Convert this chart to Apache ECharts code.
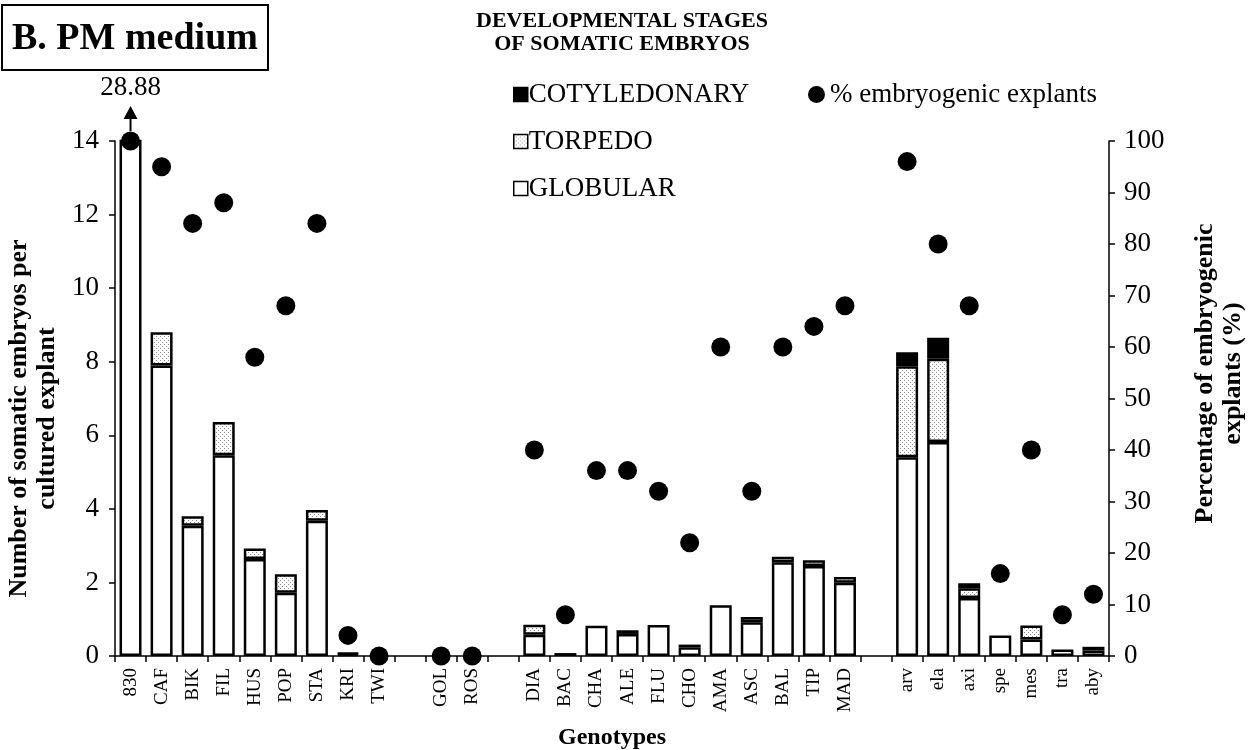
<!DOCTYPE html>
<html>
<head>
<meta charset="utf-8">
<script src="https://cdn.jsdelivr.net/npm/echarts@6/dist/echarts.min.js"></script>
<style>
html,body{margin:0;padding:0;background:#fff;}
#chart{width:1249px;height:750px;}
</style>
</head>
<body>
<div id="chart"></div>
<script>
// ---- data (null = empty slot between genotype groups) ----
const categories = ['830','CAF','BIK','FIL','HUS','POP','STA','KRI','TWI',' ',
  'GOL','ROS','  ',
  'DIA','BAC','CHA','ALE','FLU','CHO','AMA','ASC','BAL','TIP','MAD','   ',
  'arv','ela','axi','spe','mes','tra','aby'];
const globular = [28.88, 7.90, 3.54, 5.46, 2.64, 1.72, 3.68, 0.05, 0, null,
  0, 0, null,
  0.58, 0.08, 0.82, 0.60, 0.84, 0.24, 1.38, 0.92, 2.55, 2.45, 1.99, null,
  5.40, 5.82, 1.58, 0.56, 0.45, 0.18, 0.15];
const torpedo = [0, 0.90, 0.26, 0.90, 0.28, 0.50, 0.29, 0.03, 0, null,
  0, 0, null,
  0.27, 0, 0, 0.10, 0, 0.07, 0, 0.14, 0.15, 0.15, 0.16, null,
  2.48, 2.26, 0.26, 0, 0.38, 0, 0.10];
const cotyledonary = [0, 0, 0, 0, 0, 0, 0, 0, 0, null,
  0, 0, null,
  0, 0, 0, 0, 0, 0, 0, 0, 0, 0, 0, null,
  0.38, 0.57, 0.14, 0, 0, 0, 0];
const pctEmbryogenic = [100, 95, 84, 88, 58, 68, 84, 4, 0, null,
  0, 0, null,
  40, 8, 36, 36, 32, 22, 60, 32, 60, 64, 68, null,
  96, 80, 68, 16, 40, 8, 12];
const leftAxis = {min: 0, max: 14, interval: 2};
const rightAxis = {min: 0, max: 100, interval: 10};

// ---- styles ----
const FONT = "'Liberation Serif', 'DejaVu Serif', serif";
function stipple() {
  const c = document.createElement('canvas');
  c.width = 4; c.height = 4;
  const g = c.getContext('2d');
  g.fillStyle = '#ffffff'; g.fillRect(0, 0, 4, 4);
  g.fillStyle = '#8a8a8a'; g.fillRect(0, 0, 1, 1); g.fillRect(2, 2, 1, 1);
  return c;
}
const stip = stipple();
const toBar = arr => arr.map(v => (v === null || v === 0) ? '-' : v);
const toDot = arr => arr.map(v => v === null ? '-' : v);

const barBase = {
  type: 'bar', stack: 'emb', barWidth: 22, clip: true,
  yAxisIndex: 0
};

const chart = echarts.init(document.getElementById('chart'), null, {renderer: 'canvas'});
const option = {
  backgroundColor: '#ffffff',
  animation: false,
  textStyle: {fontFamily: FONT, color: '#000'},
  title: [
    {text: 'B. PM medium', left: 2, top: 5, padding: [15, 10, 12, 10],
     borderColor: '#000', borderWidth: 2,
     textStyle: {fontFamily: FONT, fontSize: 38, fontWeight: 'bold', color: '#000'}},
    {text: 'DEVELOPMENTAL STAGES\nOF SOMATIC EMBRYOS', left: 622, top: 10, textAlign: 'center',
     padding: 0,
     textStyle: {fontFamily: FONT, fontSize: 22, fontWeight: 'bold', color: '#000', lineHeight: 23}}
  ],
  legend: [
    {data: ['COTYLEDONARY', 'TORPEDO', 'GLOBULAR'], orient: 'vertical', left: 508, top: 76,
     itemGap: 20, itemWidth: 14, itemHeight: 14, icon: 'rect',
     itemStyle: {borderWidth: 1.5, borderColor: '#000'},
     textStyle: {fontFamily: FONT, fontSize: 27, color: '#000', padding: [0, 0, 0, -4]}},
    {data: ['% embryogenic explants'], left: 803, top: 76, itemWidth: 17, itemHeight: 17, icon: 'circle',
     textStyle: {fontFamily: FONT, fontSize: 27, color: '#000'}}
  ],
  grid: {left: 115, right: 140, top: 141, bottom: 94, containLabel: false, outerBoundsMode: 'none'},
  xAxis: {
    type: 'category', data: categories,
    name: 'Genotypes', nameLocation: 'middle', nameGap: 70,
    nameTextStyle: {fontFamily: FONT, fontSize: 24, fontWeight: 'bold', color: '#000'},
    axisLine: {lineStyle: {color: '#000', width: 1.5}},
    axisTick: {show: true, length: 6, lineStyle: {color: '#000', width: 1.5}, alignWithLabel: false},
    axisLabel: {rotate: 90, interval: 0, margin: 12, fontFamily: FONT, fontSize: 19, color: '#000'}
  },
  yAxis: [
    {type: 'value', min: leftAxis.min, max: leftAxis.max, interval: leftAxis.interval,
     name: 'Number of somatic embryos per\ncultured explant', nameLocation: 'middle', nameRotate: 90, nameGap: 46,
     nameTextStyle: {fontFamily: FONT, fontSize: 26, fontWeight: 'bold', color: '#000', lineHeight: 28,
       padding: [0, 40, 0, 0]},
     axisLine: {show: true, lineStyle: {color: '#000', width: 1.5}},
     axisTick: {show: true, length: 6, lineStyle: {color: '#000', width: 1.5}},
     axisLabel: {fontFamily: FONT, fontSize: 27, color: '#000', margin: 16},
     splitLine: {show: false}},
    {type: 'value', min: rightAxis.min, max: rightAxis.max, interval: rightAxis.interval,
     name: 'Percentage of embryogenic\nexplants (%)', nameLocation: 'middle', nameRotate: 90, nameGap: 82,
     nameTextStyle: {fontFamily: FONT, fontSize: 26, fontWeight: 'bold', color: '#000', lineHeight: 28,
       padding: [0, 0, 0, 50]},
     axisLine: {show: true, lineStyle: {color: '#000', width: 1.5}},
     axisTick: {show: true, length: 6, lineStyle: {color: '#000', width: 1.5}},
     axisLabel: {fontFamily: FONT, fontSize: 27, color: '#000', margin: 15},
     splitLine: {show: false}}
  ],
  series: [
    Object.assign({}, barBase, {name: 'GLOBULAR', data: toBar(globular),
      itemStyle: {color: '#ffffff', borderColor: '#000', borderWidth: 2.5}}),
    Object.assign({}, barBase, {name: 'TORPEDO', data: toBar(torpedo),
      itemStyle: {color: {image: stip, repeat: 'repeat'}, borderColor: '#000', borderWidth: 2.5}}),
    Object.assign({}, barBase, {name: 'COTYLEDONARY', data: toBar(cotyledonary),
      itemStyle: {color: '#000', borderColor: '#000', borderWidth: 2.5}}),
    {type: 'scatter', name: '% embryogenic explants', yAxisIndex: 1, data: toDot(pctEmbryogenic),
     symbol: 'circle', symbolSize: 19, itemStyle: {color: '#000', opacity: 1}, z: 5, clip: false}
  ]
};
chart.setOption(option);

// arrow + true value of the off-scale first bar
const top0 = chart.convertToPixel({xAxisIndex: 0, yAxisIndex: 0}, [0, leftAxis.max]);
const x0 = top0[0], y0 = top0[1];
chart.setOption({
  graphic: [
    {type: 'line', shape: {x1: x0, y1: y0 - 10, x2: x0, y2: y0 - 22}, style: {stroke: '#000', lineWidth: 2}},
    {type: 'polygon', shape: {points: [[x0 - 7, y0 - 22], [x0 + 7, y0 - 22], [x0, y0 - 35]]}, style: {fill: '#000'}},
    {type: 'text', x: x0, y: y0 - 53, style: {text: globular[0].toFixed(2), font: '27px ' + FONT,
      fill: '#000', align: 'center', verticalAlign: 'middle'}}
  ]
});
</script>
</body>
</html>
